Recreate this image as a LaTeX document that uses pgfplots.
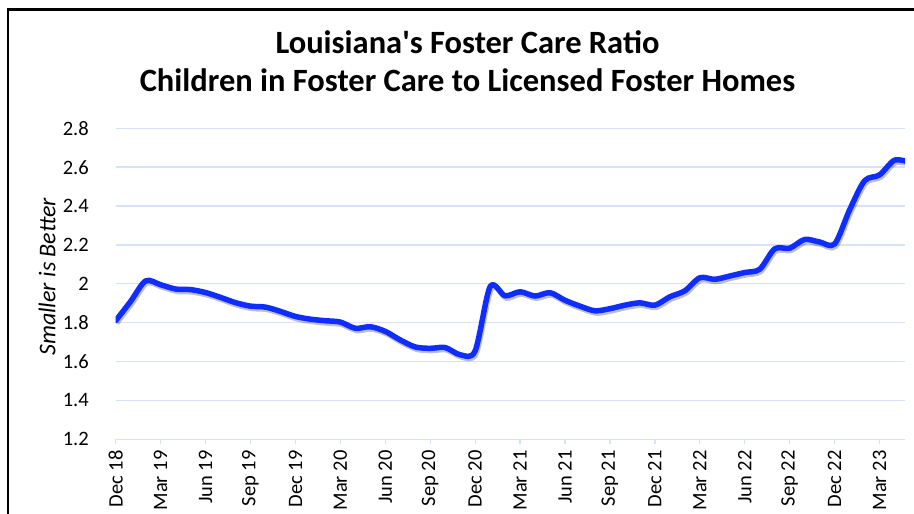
\documentclass[border=0pt]{standalone}
\usepackage{fontspec}
\setmainfont{Carlito}
\usepackage{pgfplots}
\pgfplotsset{compat=1.18}
\definecolor{lineblue}{RGB}{15,45,255}
\definecolor{gridblue}{RGB}{214,226,245}
\pgfplotstableread{
m v
0 1.81
1 1.91
2 2.015
3 1.995
4 1.973
5 1.97
6 1.955
7 1.93
8 1.903
9 1.885
10 1.88
11 1.858
12 1.832
13 1.818
14 1.81
15 1.803
16 1.771
17 1.779
18 1.755
19 1.711
20 1.675
21 1.668
22 1.672
23 1.635
24 1.655
25 1.985
26 1.938
27 1.959
28 1.937
29 1.954
30 1.915
31 1.885
32 1.861
33 1.872
34 1.89
35 1.902
36 1.89
37 1.933
38 1.964
39 2.031
40 2.023
41 2.04
42 2.058
43 2.075
44 2.18
45 2.183
46 2.228
47 2.215
48 2.205
49 2.38
50 2.53
51 2.56
52 2.636
53 2.625
}\ratio
\begin{document}
\begin{tikzpicture}[x=1bp,y=1bp]
\path[use as bounding box] (0,0) rectangle (914,514);
\draw[line width=2.4bp, black] (8,-2) -- (8,504.5) -- (916,504.5);
\node[anchor=base, inner sep=0pt, font=\fontsize{32.5bp}{38bp}\selectfont\bfseries] at (467.5,460) {Louisiana\textquotesingle s Foster Care Ratio};
\node[anchor=base, inner sep=0pt, font=\fontsize{32.5bp}{38bp}\selectfont\bfseries] at (467.5,422) {Children in Foster Care to Licensed Foster Homes};
\begin{axis}[
  at={(115.7bp,74.7bp)}, anchor=south west,
  width=789.3bp, height=311bp, scale only axis,
  xmin=0, xmax=52.7, ymin=1.2, ymax=2.8,
  xtick={0,3,...,51},
  xticklabels={Dec 18,Mar 19,Jun 19,Sep 19,Dec 19,Mar 20,Jun 20,Sep 20,Dec 20,Mar 21,Jun 21,Sep 21,Dec 21,Mar 22,Jun 22,Sep 22,Dec 22,Mar 23},
  ytick={1.2,1.4,1.6,1.8,2,2.2,2.4,2.6,2.8},
  /pgf/number format/assume math mode=true,
  ymajorgrids, major grid style={gridblue, line width=1.4bp},
  axis line style={draw=none},
  xtick pos=left, tick align=outside, major tick length=5bp,
  xtick style={gridblue, line width=1.3bp}, ytick style={draw=none},
  tick label style={font=\fontsize{20.5bp}{22bp}\selectfont, inner sep=0pt},
  yticklabel style={anchor=east, xshift=-21.7bp},
  xticklabel style={rotate=90, anchor=east},
  xticklabel shift=6bp,
  ylabel={Smaller is Better},
  ylabel style={at={(axis description cs:-0.087,0.522)}, anchor=center, font=\fontsize{24bp}{28bp}\selectfont\itshape},
  clip=true,
]
\addplot[black, opacity=0.25, line width=5bp, smooth, tension=0.5, transform canvas={xshift=1.2bp, yshift=-2.5bp}] table[x=m, y=v] {\ratio};
\addplot[lineblue, line width=5.5bp, smooth, tension=0.5, line join=round, line cap=round] table[x=m, y=v] {\ratio};
\end{axis}
\end{tikzpicture}
\end{document}
